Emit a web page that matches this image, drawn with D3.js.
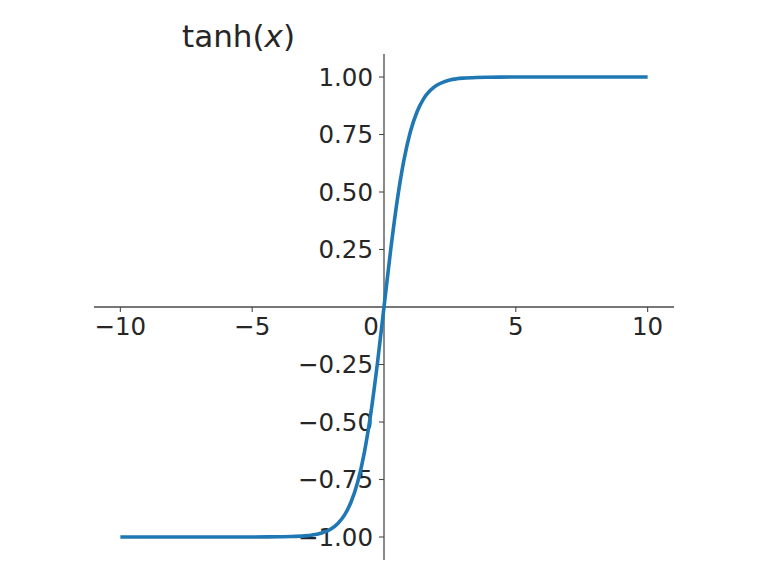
<!DOCTYPE html>
<html>
<head>
<meta charset="utf-8">
<script src="https://cdn.jsdelivr.net/npm/d3@7"></script>
<style>
  html, body { margin: 0; padding: 0; background: #fff; }
  svg { display: block; }
  text { font-family: "DejaVu Sans", sans-serif; fill: #262626; }
</style>
</head>
<body>
<svg id="chart" width="768" height="565"></svg>
<script>
// Data
const xValues = [-10, -8, -6, -5, -4, -3.5, -3, -2.75, -2.5, -2.25, -2, -1.75, -1.5, -1.25, -1, -0.75, -0.5, -0.25, 0,
                 0.25, 0.5, 0.75, 1, 1.25, 1.5, 1.75, 2, 2.25, 2.5, 2.75, 3, 3.5, 4, 5, 6, 8, 10];
const yValues = [-1.0, -1.0, -1.0, -1.0, -0.999, -0.998, -0.995, -0.992, -0.987, -0.978, -0.964, -0.941, -0.905, -0.848, -0.762, -0.635, -0.462, -0.245, 0,
                 0.245, 0.462, 0.635, 0.762, 0.848, 0.905, 0.941, 0.964, 0.978, 0.987, 0.992, 0.995, 0.998, 0.999, 1.0, 1.0, 1.0, 1.0];
const xTicks = [-10, -5, 0, 5, 10];
const xTickLabels = ["\u221210", "\u22125", "0", "5", "10"];
const yTicks = [-1, -0.75, -0.5, -0.25, 0.25, 0.5, 0.75, 1];
const yTickLabels = ["\u22121.00", "\u22120.75", "\u22120.50", "\u22120.25", "0.25", "0.50", "0.75", "1.00"];
const xDomain = [-11, 11];
const yDomain = [-1.1, 1.1];

const svg = d3.select("#chart");
const x = d3.scaleLinear().domain(xDomain).range([94, 674]);
const y = d3.scaleLinear().domain(yDomain).range([560, 54]);

const axisColor = "#4a4a4a";

// x spine at y=0
svg.append("line")
  .attr("x1", x(xDomain[0])).attr("x2", x(xDomain[1]))
  .attr("y1", y(0)).attr("y2", y(0))
  .attr("stroke", axisColor).attr("stroke-width", 1.3);
// y spine at x=0
svg.append("line")
  .attr("x1", x(0)).attr("x2", x(0))
  .attr("y1", y(yDomain[0])).attr("y2", y(yDomain[1]))
  .attr("stroke", axisColor).attr("stroke-width", 1.3);

// x ticks
const xg = svg.append("g");
xTicks.forEach((t, i) => {
  xg.append("line")
    .attr("x1", x(t)).attr("x2", x(t))
    .attr("y1", y(0)).attr("y2", y(0) + 5)
    .attr("stroke", axisColor).attr("stroke-width", 1.1);
  xg.append("text")
    .attr("x", t === 0 ? x(t) - 13 : x(t))
    .attr("y", y(0) + 28)
    .attr("text-anchor", "middle")
    .attr("font-size", 24.5)
    .text(xTickLabels[i]);
});

// y ticks
const yg = svg.append("g");
yTicks.forEach((t, i) => {
  yg.append("line")
    .attr("x1", x(0) - 5).attr("x2", x(0))
    .attr("y1", y(t)).attr("y2", y(t))
    .attr("stroke", axisColor).attr("stroke-width", 1.1);
  yg.append("text")
    .attr("x", x(0) - 11)
    .attr("y", y(t))
    .attr("dy", "0.36em")
    .attr("text-anchor", "end")
    .attr("font-size", 24.5)
    .text(yTickLabels[i]);
});

// curve
const pts = xValues.map((v, i) => [v, yValues[i]]);
svg.append("path")
  .datum(pts)
  .attr("fill", "none")
  .attr("stroke", "#1f77b4")
  .attr("stroke-width", 3.6)
  .attr("stroke-linecap", "butt")
  .attr("d", d3.line().x(d => x(d[0])).y(d => y(d[1])).curve(d3.curveMonotoneX));

// title
const title = svg.append("text")
  .attr("x", 182)
  .attr("y", 47)
  .attr("font-size", 31);
title.append("tspan").text("tanh(");
title.append("tspan").attr("font-style", "italic").text("x");
title.append("tspan").text(")");
</script>
</body>
</html>
